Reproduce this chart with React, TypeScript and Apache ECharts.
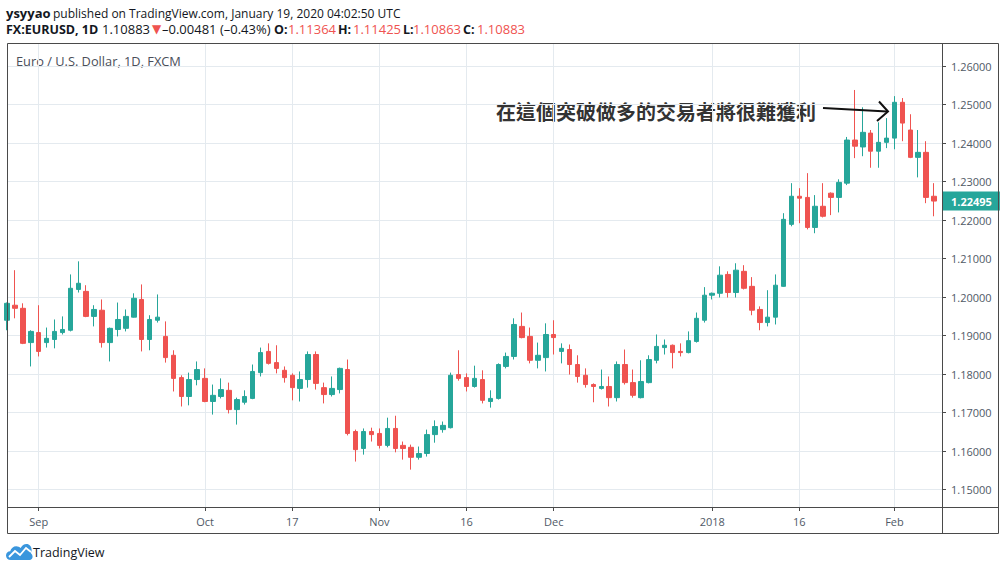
import React, { useEffect, useRef } from "react";
import * as echarts from "echarts";

// OHLC values (EUR/USD daily, FXCM)
const opens = [
  1.1940, 1.1979, 1.1971, 1.1882, 1.1908, 1.1882, 1.1890, 1.1908, 1.1914, 1.2020,
  1.2015, 1.1950, 1.1966, 1.1882, 1.1916, 1.1919, 1.1948, 1.1994, 1.1890, 1.1940,
  1.1898, 1.1849, 1.1791, 1.1742, 1.1786, 1.1789, 1.1729, 1.1742, 1.1758, 1.1708,
  1.1727, 1.1737, 1.1804, 1.1859, 1.1830, 1.1810, 1.1797, 1.1763, 1.1786, 1.1851,
  1.1765, 1.1747, 1.1760, 1.1812, 1.1651, 1.1607, 1.1651, 1.1646, 1.1615, 1.1659,
  1.1615, 1.1610, 1.1584, 1.1594, 1.1643, 1.1656, 1.1661, 1.1799, 1.1791, 1.1768,
  1.1786, 1.1729, 1.1737, 1.1820, 1.1846, 1.1924, 1.1898, 1.1836, 1.1843, 1.1903,
  1.1859, 1.1864, 1.1825, 1.1797, 1.1773, 1.1763, 1.1768, 1.1739, 1.1825, 1.1778,
  1.1739, 1.1778, 1.1836, 1.1869, 1.1875, 1.1859, 1.1856, 1.1885, 1.1940, 1.2005,
  1.2010, 1.2059, 1.2012, 1.2067, 1.2028, 1.1968, 1.1934, 1.1948, 1.2028, 1.2189,
  1.2262, 1.2259, 1.2181, 1.2236, 1.2270, 1.2259, 1.2296, 1.2408, 1.2390, 1.2426,
  1.2379, 1.2402, 1.2413, 1.2506, 1.2434, 1.2363, 1.2376, 1.2262,
];
const closes = [
  1.1984, 1.1971, 1.1880, 1.1911, 1.1859, 1.1893, 1.1911, 1.1916, 1.2023, 1.2036,
  1.1950, 1.1968, 1.1882, 1.1919, 1.1942, 1.1950, 1.1997, 1.1890, 1.1942, 1.1948,
  1.1843, 1.1789, 1.1742, 1.1786, 1.1812, 1.1729, 1.1745, 1.1760, 1.1708, 1.1734,
  1.1742, 1.1807, 1.1856, 1.1828, 1.1815, 1.1791, 1.1765, 1.1786, 1.1851, 1.1776,
  1.1747, 1.1763, 1.1815, 1.1646, 1.1604, 1.1651, 1.1643, 1.1615, 1.1659, 1.1607,
  1.1607, 1.1584, 1.1594, 1.1643, 1.1664, 1.1667, 1.1797, 1.1789, 1.1768, 1.1789,
  1.1732, 1.1737, 1.1825, 1.1846, 1.1929, 1.1895, 1.1836, 1.1849, 1.1903, 1.1895,
  1.1867, 1.1825, 1.1794, 1.1773, 1.1768, 1.1768, 1.1739, 1.1825, 1.1778, 1.1745,
  1.1781, 1.1838, 1.1872, 1.1875, 1.1856, 1.1856, 1.1887, 1.1945, 1.2005, 1.2010,
  1.2057, 1.2012, 1.2070, 1.2023, 1.1966, 1.1934, 1.1948, 1.2031, 1.2202, 1.2262,
  1.2257, 1.2181, 1.2236, 1.2210, 1.2259, 1.2298, 1.2408, 1.2392, 1.2428, 1.2379,
  1.2402, 1.2413, 1.2506, 1.2452, 1.2363, 1.2376, 1.2259, 1.22495,
];
const lows = [
  1.1914, 1.1945, 1.1878, 1.1820, 1.1846, 1.1869, 1.1867, 1.1903, 1.1911, 1.2012,
  1.1948, 1.1924, 1.1869, 1.1833, 1.1898, 1.1911, 1.1947, 1.1859, 1.1862, 1.1934,
  1.1830, 1.1755, 1.1716, 1.1719, 1.1771, 1.1727, 1.1695, 1.1737, 1.1698, 1.1669,
  1.1721, 1.1735, 1.1794, 1.1825, 1.1802, 1.1778, 1.1732, 1.1729, 1.1765, 1.1760,
  1.1724, 1.1742, 1.1750, 1.1641, 1.1573, 1.1591, 1.1625, 1.1607, 1.1610, 1.1597,
  1.1578, 1.1552, 1.1578, 1.1586, 1.1622, 1.1648, 1.1659, 1.1783, 1.1755, 1.1765,
  1.1724, 1.1713, 1.1734, 1.1815, 1.1838, 1.1893, 1.1828, 1.1815, 1.1807, 1.1851,
  1.1828, 1.1799, 1.1778, 1.1765, 1.1727, 1.1760, 1.1716, 1.1729, 1.1773, 1.1739,
  1.1737, 1.1776, 1.1828, 1.1851, 1.1815, 1.1846, 1.1854, 1.1882, 1.1934, 1.1994,
  1.1999, 1.1999, 1.1999, 1.2020, 1.1953, 1.1914, 1.1924, 1.1929, 1.2027, 1.2184,
  1.2192, 1.2176, 1.2166, 1.2207, 1.2213, 1.2220, 1.2291, 1.2361, 1.2366, 1.2336,
  1.2336, 1.2387, 1.2384, 1.2405, 1.2361, 1.2311, 1.2244, 1.2210,
];
const highs = [
  1.1986, 1.2070, 1.1984, 1.1914, 1.1979, 1.1921, 1.1942, 1.1950, 1.2059, 1.2093,
  1.2031, 1.1979, 1.1994, 1.1921, 1.1986, 1.1968, 1.2010, 1.2033, 1.1953, 1.2007,
  1.1937, 1.1862, 1.1797, 1.1804, 1.1833, 1.1815, 1.1773, 1.1789, 1.1778, 1.1739,
  1.1758, 1.1825, 1.1869, 1.1880, 1.1875, 1.1820, 1.1802, 1.1807, 1.1859, 1.1859,
  1.1778, 1.1794, 1.1817, 1.1838, 1.1656, 1.1659, 1.1661, 1.1659, 1.1687, 1.1692,
  1.1625, 1.1617, 1.1612, 1.1656, 1.1680, 1.1677, 1.1804, 1.1862, 1.1802, 1.1822,
  1.1810, 1.1758, 1.1828, 1.1856, 1.1945, 1.1960, 1.1921, 1.1882, 1.1932, 1.1940,
  1.1880, 1.1877, 1.1849, 1.1815, 1.1776, 1.1812, 1.1794, 1.1833, 1.1864, 1.1812,
  1.1836, 1.1849, 1.1903, 1.1890, 1.1877, 1.1880, 1.1911, 1.1960, 1.2026, 1.2012,
  1.2080, 1.2067, 1.2088, 1.2083, 1.2052, 1.1976, 1.2018, 1.2059, 1.2218, 1.2296,
  1.2283, 1.2322, 1.2265, 1.2296, 1.2272, 1.2306, 1.2416, 1.2538, 1.2493, 1.2434,
  1.2454, 1.2465, 1.2522, 1.2517, 1.2475, 1.2434, 1.2405, 1.2296,
];

// Trading-day calendar (weekdays, FXCM closed on Christmas)
const firstDate = "2017-08-28";
const slotCount = 119;
const holidays = ["2017-12-25"];

const tickDates = [
  "2017-09-01", "2017-10-02", "2017-10-17", "2017-11-01", "2017-11-16",
  "2017-12-01", "2018-01-01", "2018-01-16", "2018-02-01",
];
const tickTexts = ["Sep", "Oct", "17", "Nov", "16", "Dec", "2018", "16", "Feb"];

const yMin = 1.1455;
const yMax = 1.266;

// header status line pieces
const statusTexts = [
  "FX:EURUSD, 1D", "1.10883", "▼", "–0.00481 (–0.43%)",
  "O:", "1.11364", "H:", "1.11425", "L:", "1.10863", "C:", "1.10883",
];
const statusKinds = ["b", "n", "r", "n", "b", "r", "b", "r", "b", "r", "b", "r"];
const statusX = [6, 102, 152, 162, 274, 288, 338, 353, 403, 413, 463, 477];

const annotation = "在這個突破做多的交易者將很難獲利";

function buildDates(): string[] {
  const out: string[] = [];
  const d = new Date(firstDate + "T00:00:00Z");
  while (out.length < slotCount) {
    const s = d.toISOString().slice(0, 10);
    const wd = d.getUTCDay();
    if (wd !== 0 && wd !== 6 && !holidays.includes(s)) out.push(s);
    d.setUTCDate(d.getUTCDate() + 1);
  }
  return out;
}

const UP = "#26a69a";
const DOWN = "#ef5350";
const GRID = "#e4eaef";
const FRAME = "#4a4a4a";
const LABEL = "#4f5966";
const INK = "#131722";
const FONT = "Open Sans";

let registered = false;
function registerLogo() {
  if (registered) return;
  registered = true;
  const d =
    "M5 16 C2 16 0 14 0 11.5 C0 9 2 7.2 4.4 7.2 C5.2 4.2 7.8 2.2 10.8 2.2 C12.6 2.2 14.2 2.9 15.4 4.1 C16.6 1.6 19 0 21.6 0 C24.6 0 27 2.6 27 5.8 C27 7 26.7 8 26.1 8.9 C27.3 10 28 11.4 28 12.8 C28 14.6 26.6 16 24.8 16 Z";
  echarts.graphic.registerShape("tvlogo", echarts.graphic.extendPath(d, {}) as any);
}

export default function App() {
  const ref = useRef<HTMLDivElement>(null);

  useEffect(() => {
    document.body.style.margin = "0";
    registerLogo();
    const chart = echarts.init(ref.current!, null, { renderer: "svg" });
    const dates = buildDates();
    const data = opens.map((o, i) => [o, closes[i], lows[i], highs[i]]);
    const lastClose = closes[closes.length - 1];
    const isTick = (_i: number, v: string) => tickDates.includes(v);

    const statusGraphics = statusTexts.map((t, i) => {
      const kind = statusKinds[i];
      return {
        type: "text",
        x: statusX[i],
        y: 29,
        style: {
          text: t,
          verticalAlign: "middle",
          fontSize: t === "▼" ? 12 : kind === "b" ? 12.5 : 13,
          fontWeight: kind === "b" ? "bold" : "normal",
          fontFamily: t === "▼" ? "DejaVu Sans" : FONT,
          fill: kind === "r" ? DOWN : INK,
        },
      };
    });

    const option: any = {
      animation: false,
      grid: { left: 7, right: 64, top: 43, bottom: 64, outerBoundsMode: "none" },
      xAxis: {
        type: "category",
        data: dates,
        boundaryGap: false,
        axisLine: { show: false },
        axisTick: { show: true, length: 4, interval: isTick, lineStyle: { color: FRAME } },
        axisLabel: {
          interval: isTick,
          formatter: (v: string) => tickTexts[tickDates.indexOf(v)] ?? "",
          color: LABEL,
          fontSize: 11,
          fontFamily: FONT,
          margin: 9,
        },
        splitLine: { show: true, interval: isTick, lineStyle: { color: GRID, width: 1 } },
      },
      yAxis: {
        type: "value",
        position: "right",
        min: yMin,
        max: yMax,
        splitNumber: 12,
        axisLine: { show: false },
        axisTick: { show: true, length: 4, lineStyle: { color: FRAME } },
        axisLabel: {
          formatter: (v: number) => v.toFixed(5),
          showMinLabel: false,
          showMaxLabel: false,
          color: LABEL,
          fontSize: 11,
          fontFamily: FONT,
          margin: 9,
        },
        splitLine: { show: true, lineStyle: { color: GRID, width: 1 } },
      },
      series: [
        {
          type: "candlestick",
          data,
          barWidth: 5,
          clip: true,
          itemStyle: {
            color: UP,
            color0: DOWN,
            borderColor: UP,
            borderColor0: DOWN,
            borderWidth: 1,
          },
          markLine: {
            silent: true,
            symbol: "none",
            precision: 5,
            lineStyle: { color: "rgba(0,0,0,0)", width: 1, type: "solid" },
            label: {
              show: true,
              position: "end",
              distance: 1,
              align: "left",
              verticalAlign: "middle",
              formatter: () => lastClose.toFixed(5),
              backgroundColor: UP,
              color: "#ffffff",
              fontSize: 11,
              fontWeight: "bold",
              fontFamily: FONT,
              lineHeight: 13,
              padding: [3, 8, 3, 8],
            },
            emphasis: { disabled: true },
            data: [{ yAxis: lastClose }],
          },
        },
      ],
      graphic: [
        {
          type: "text",
          x: 6,
          y: 13,
          style: {
            text: "ysyyao",
            verticalAlign: "middle",
            fontSize: 13,
            fontWeight: "bold",
            fontFamily: FONT,
            fill: INK,
          },
        },
        {
          type: "text",
          x: 53,
          y: 13,
          style: {
            text: "published on TradingView.com, January 19, 2020 04:02:50 UTC",
            verticalAlign: "middle",
            fontSize: 12,
            fontFamily: FONT,
            fill: INK,
          },
        },
        ...statusGraphics,
        {
          type: "text",
          x: 16,
          y: 61,
          style: {
            text: "Euro / U.S. Dollar, 1D, FXCM",
            verticalAlign: "middle",
            fontSize: 12.8,
            fontFamily: FONT,
            fill: "#4a4e59",
          },
        },
        {
          type: "text",
          x: 496,
          y: 111,
          style: {
            text: annotation,
            verticalAlign: "middle",
            fontSize: 20,
            fontWeight: "bold",
            fontFamily: "Noto Sans CJK TC",
            fill: "#333333",
          },
        },
        {
          type: "polyline",
          z: 50,
          shape: { points: [[823, 108], [887, 111.5]] },
          style: { stroke: "#111", lineWidth: 2, fill: "none" },
        },
        {
          type: "polyline",
          z: 50,
          shape: { points: [[879, 101.5], [888, 111.5], [877, 121]] },
          style: { stroke: "#111", lineWidth: 2, fill: "none" },
        },
        {
          type: "rect",
          z: 100,
          shape: { x: 7.5, y: 43.5, width: 991, height: 490 },
          style: { fill: "none", stroke: FRAME, lineWidth: 1 },
        },
        {
          type: "line",
          z: 100,
          shape: { x1: 942.5, y1: 43.5, x2: 942.5, y2: 533.5 },
          style: { stroke: FRAME, lineWidth: 1 },
        },
        {
          type: "line",
          z: 100,
          shape: { x1: 7.5, y1: 507.5, x2: 998.5, y2: 507.5 },
          style: { stroke: FRAME, lineWidth: 1 },
        },
        {
          type: "tvlogo",
          x: 6,
          y: 544,
          scaleX: 0.95,
          scaleY: 1,
          style: { fill: "#3a96dd" },
        },
        {
          type: "polyline",
          shape: { points: [[9, 557], [15, 551], [20, 555], [26, 548], [31, 552]] },
          style: { stroke: "#ffffff", lineWidth: 1.8, fill: "none" },
        },
        {
          type: "text",
          x: 33,
          y: 552,
          style: {
            text: "TradingView",
            verticalAlign: "middle",
            fontSize: 12.5,
            fontFamily: FONT,
            fill: INK,
          },
        },
      ],
    };

    chart.setOption(option);
    return () => chart.dispose();
  }, []);

  return (
    <div
      ref={ref}
      style={{ position: "absolute", left: 0, top: 0, width: 1006, height: 571, background: "#fff" }}
    />
  );
}
